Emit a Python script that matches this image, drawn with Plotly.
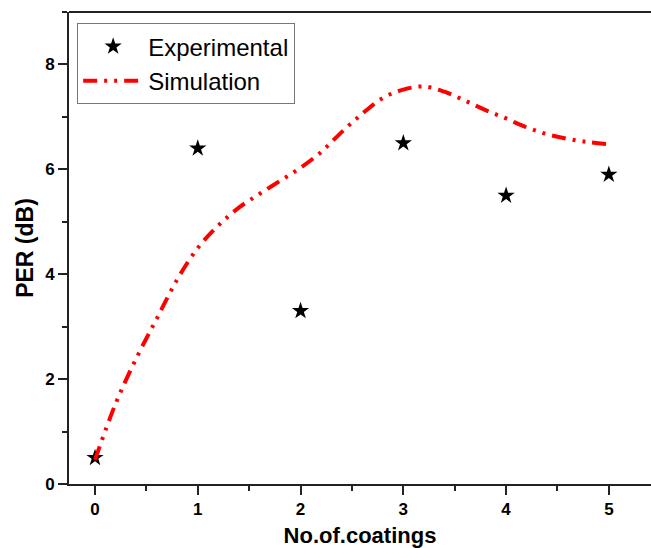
import plotly.graph_objects as go

# Data
exp_x = [0, 1, 2, 3, 4, 5]
exp_y = [0.5, 6.4, 3.3, 6.5, 5.5, 5.9]

sim_x = [0, 0.2, 0.4, 0.6, 0.8, 1.0, 1.2, 1.4, 1.6, 1.8, 2.0, 2.2, 2.4,
         2.6, 2.8, 3.0, 3.2, 3.4, 3.6, 3.8, 4.0, 4.2, 4.4, 4.6, 4.8, 5.0]
sim_y = [0.46, 1.53, 2.39, 3.15, 3.9, 4.5, 4.93, 5.27, 5.53, 5.78, 6.03,
         6.33, 6.71, 7.06, 7.36, 7.52, 7.58, 7.48, 7.31, 7.13, 6.97, 6.80,
         6.67, 6.58, 6.52, 6.48]

x_ticks = [0, 1, 2, 3, 4, 5]
y_ticks = [0, 2, 4, 6, 8]

FONT = "Liberation Sans, Arial, sans-serif"

fig = go.Figure()
fig.add_trace(go.Scatter(
    x=exp_x, y=exp_y, mode="markers", name="Experimental",
    marker=dict(symbol="star", size=13, color="black", line=dict(width=0)),
))
fig.add_trace(go.Scatter(
    x=sim_x, y=sim_y, mode="lines", name="Simulation",
    line=dict(color="#ff0000", width=4, shape="spline",
              dash="14px,7px,3px,7px,3px,7px"),
))

fig.add_shape(type="line", xref="paper", yref="paper", x0=0, x1=1, y0=1, y1=1,
              line=dict(color="#222222", width=2))

fig.update_layout(
    width=651, height=548,
    margin=dict(l=69, r=0, t=12, b=64),
    paper_bgcolor="white", plot_bgcolor="white",
    font=dict(family=FONT, color="black"),
    showlegend=True,
    legend=dict(
        x=0.014, y=0.976, xanchor="left", yanchor="top",
        bgcolor="white", bordercolor="#777777", borderwidth=1,
        font=dict(family=FONT, size=24, color="black"),
        itemwidth=60, tracegroupgap=0,
    ),
    xaxis=dict(
        range=[-0.253, 5.41], tickvals=x_ticks, ticktext=["<b>%d</b>" % v for v in x_ticks],
        automargin=False,
        showgrid=False, zeroline=False, showline=True, linecolor="#222222", linewidth=2,
        ticks="outside", ticklen=9, tickwidth=2, tickcolor="#222222",
        minor=dict(dtick=0.5, tick0=0, ticks="outside", ticklen=5, tickwidth=2, tickcolor="#222222"),
        tickfont=dict(family=FONT, size=17, color="black"),
        title=dict(text="<b>No.of.coatings</b>", font=dict(family=FONT, size=22, color="black"), standoff=11),
    ),
    yaxis=dict(
        range=[0, 9], tickvals=y_ticks, ticktext=["<b>%d</b>" % v for v in y_ticks],
        automargin=False,
        showgrid=False, zeroline=False, showline=True, linecolor="#222222", linewidth=2,
        ticks="outside", ticklen=9, tickwidth=2, tickcolor="#222222",
        minor=dict(dtick=1, tick0=0, ticks="outside", ticklen=5, tickwidth=2, tickcolor="#222222"),
        tickfont=dict(family=FONT, size=17, color="black"),
        title=dict(text="<b>PER (dB)</b>", font=dict(family=FONT, size=23, color="black"), standoff=5),
    ),
)

fig.write_html(
    "out.html",
    config={"displayModeBar": False},
    post_script="document.body.style.margin='0';document.body.style.overflow='hidden';",
)
